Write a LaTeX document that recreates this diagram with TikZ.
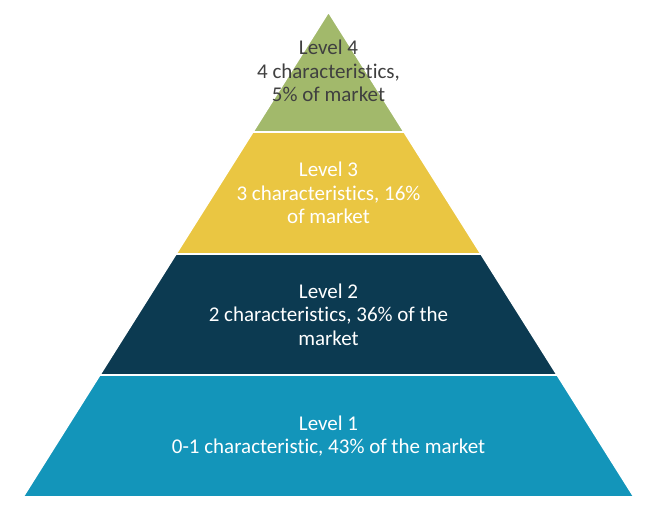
\documentclass[tikz,border=0pt]{standalone}
\usepackage{fontspec}
\setmainfont{Carlito}[Ligatures=NoCommon]
\definecolor{lvlgreen}{HTML}{A2B96B}
\definecolor{lvlyellow}{HTML}{EAC642}
\definecolor{lvlnavy}{HTML}{0C3A51}
\definecolor{lvlteal}{HTML}{1395BA}
\definecolor{txtgray}{HTML}{404040}
\begin{document}
\begin{tikzpicture}[x=1pt,y=-1pt,
  layer/.style={draw=white,line width=1.6pt,line join=miter},
  lbl/.style={align=center,inner sep=0pt,font=\fontsize{21}{23.5}\selectfont}]
\useasboundingbox (0,0) rectangle (650,504);
% apex 12, boundaries 132,254,375, base 497 ; hw = 0.63*(y-12)
\fill[white] (0,0) rectangle (650,504);
\path[layer,fill=lvlteal] (99.8,375) -- (557.2,375) -- (634,497) -- (23,497) -- cycle;
\path[layer,fill=lvlnavy] (176,254) -- (481,254) -- (557.2,375) -- (99.8,375) -- cycle;
\path[layer,fill=lvlyellow] (252.9,132) -- (404.1,132) -- (481,254) -- (176,254) -- cycle;
\path[layer,fill=lvlgreen] (328.5,12) -- (404.1,132) -- (252.9,132) -- cycle;
\node[lbl,text=txtgray] (l4) at (328.5,71) {Level 4\\4 characteristics,\\5\% of market};
\node[lbl,text=white] (l3) at (328.5,193) {Level 3\\3 characteristics, 16\%\\of market};
\node[lbl,text=white] (l2) at (328.5,314.5) {Level 2\\2 characteristics, 36\% of the\\market};
\node[lbl,text=white] (l1) at (328.5,436) {Level 1\\0-1 characteristic, 43\% of the market};
\end{tikzpicture}
\end{document}
